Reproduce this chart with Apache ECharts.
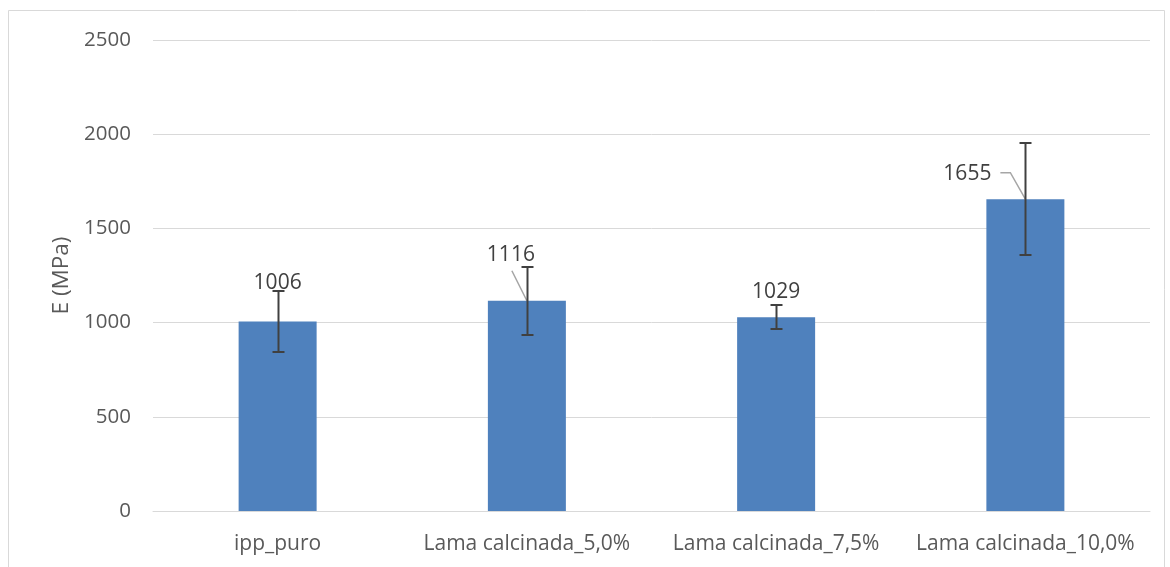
<!DOCTYPE html>
<html><head><meta charset="utf-8">
<script src="https://cdn.jsdelivr.net/npm/echarts@6/dist/echarts.min.js"></script>
<style>html,body{margin:0;padding:0;background:#fff}#c{width:1170px;height:567px}</style>
</head><body><div id="c"></div>
<script>
const categories = ['ipp_puro', 'Lama calcinada_5,0%', 'Lama calcinada_7,5%', 'Lama calcinada_10,0%'];
const values = [1006, 1116, 1029, 1655];
const errors = [160, 180, 64, 296];
const yTicks = [0, 500, 1000, 1500, 2000, 2500];

// label placement relative to bar top (px): [dx, dy, leader]
const labelLayout = [[0, -38, 0], [-16, -46, 1], [0, -25, 0], [-58, -25, 2]];

const FONT = '"Open Sans", sans-serif';
const TXT = '#595959';

const chart = echarts.init(document.getElementById('c'), null, {renderer: 'canvas'});
chart.setOption({
  animation: false,
  backgroundColor: '#fff',
  graphic: [{type: 'rect', shape: {x: 8.5, y: 10.5, width: 1156, height: 570}, style: {fill: 'none', stroke: '#d9d9d9', lineWidth: 1}, silent: true}],
  grid: {left: 153, right: 20, top: 40, bottom: 56},
  xAxis: {
    type: 'category', data: categories,
    axisLine: {lineStyle: {color: '#d9d9d9', width: 1}},
    axisTick: {show: false},
    axisLabel: {color: TXT, fontFamily: FONT, fontSize: 21, margin: 23, interval: 0}
  },
  yAxis: {
    type: 'value', min: yTicks[0], max: yTicks[yTicks.length - 1], interval: 500,
    name: 'E (MPa)', nameLocation: 'middle', nameGap: 79,
    nameTextStyle: {color: TXT, fontFamily: FONT, fontSize: 22.5},
    axisLine: {show: false}, axisTick: {show: false},
    axisLabel: {color: TXT, fontFamily: FONT, fontSize: 20.5, margin: 22, formatter: v => String(v)},
    splitLine: {lineStyle: {color: '#d9d9d9', width: 1}}
  },
  series: [
    {
      type: 'bar', data: values, barWidth: 78,
      itemStyle: {color: '#4f81bd'}
    },
    {
      type: 'custom',
      data: values.map((v, i) => [i, v, errors[i]]),
      renderItem: function (params, api) {
        const i = api.value(0), v = api.value(1), e = api.value(2);
        const top = api.coord([i, v + e]);
        const bot = api.coord([i, v - e]);
        const mid = api.coord([i, v]);
        const x = Math.round(top[0]) + 0.5;
        const cap = 6;
        const st = {stroke: '#404040', lineWidth: 2};
        const children = [];
        const lay = labelLayout[params.dataIndex];
        const tx = mid[0] + lay[0], ty = mid[1] + lay[1];
        if (lay[2] === 1) {
          children.push({type: 'polyline', shape: {points: [[tx + 1, ty + 16], [mid[0], mid[1]]]}, style: {stroke: '#a6a6a6', lineWidth: 1.5, fill: 'none'}});
        } else if (lay[2] === 2) {
          children.push({type: 'polyline', shape: {points: [[tx + 33, ty - 1.5], [tx + 43, ty - 1.5], [mid[0], mid[1]]]}, style: {stroke: '#a6a6a6', lineWidth: 1.5, fill: 'none'}});
        }
        children.push(
          {type: 'line', shape: {x1: x, y1: top[1], x2: x, y2: bot[1]}, style: st},
          {type: 'line', shape: {x1: x - cap, y1: Math.round(top[1]), x2: x + cap, y2: Math.round(top[1])}, style: st},
          {type: 'line', shape: {x1: x - cap, y1: Math.round(bot[1]), x2: x + cap, y2: Math.round(bot[1])}, style: st}
        );
        children.push({type: 'text', style: {text: String(v), x: tx, y: ty, align: 'center', verticalAlign: 'middle', fill: '#404040', font: '21px ' + FONT}});
        return {type: 'group', children: children};
      },
      z: 5
    }
  ]
});
</script></body></html>
